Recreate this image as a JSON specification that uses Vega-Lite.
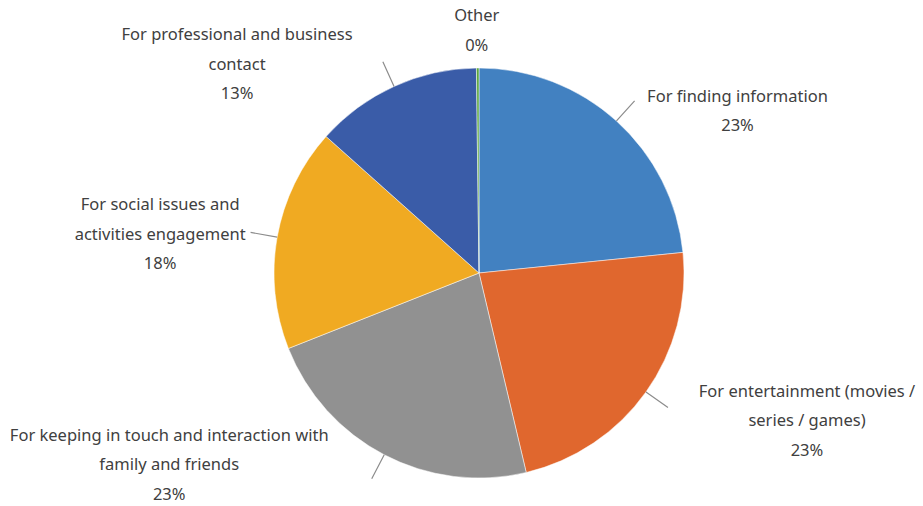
{
  "$schema": "https://vega.github.io/schema/vega-lite/v6.json",
  "autosize": {"type": "none"},
  "padding": {"left": 35, "top": 40, "right": 0, "bottom": 0},
  "width": 888,
  "height": 466,
  "background": "white",
  "config": {"view": {"stroke": null}},
  "data": {
    "values": [
      {"order": 1, "category": "For finding information", "share": 23.4, "label": "For finding information\n23%"},
      {"order": 2, "category": "For entertainment (movies / series / games)", "share": 22.9, "label": "For entertainment (movies /\nseries / games)\n23%"},
      {"order": 3, "category": "For keeping in touch and interaction with family and friends", "share": 22.7, "label": "For keeping in touch and interaction with\nfamily and friends\n23%"},
      {"order": 4, "category": "For social issues and activities engagement", "share": 17.6, "label": "For social issues and\nactivities engagement\n18%"},
      {"order": 5, "category": "For professional and business contact", "share": 13.2, "label": "For professional and business\ncontact\n13%"},
      {"order": 6, "category": "Other", "share": 0.2, "label": "Other\n0%"}
    ]
  },
  "transform": [
    {"window": [{"op": "sum", "field": "share", "as": "cum"}], "sort": [{"field": "order"}], "frame": [null, 0]},
    {"calculate": "datum.cum - datum.share / 2", "as": "mid"}
  ],
  "layer": [
    {
      "mark": {"type": "arc", "radius": 205, "stroke": "white", "strokeWidth": 0.5},
      "encoding": {
        "theta": {"field": "share", "type": "quantitative", "stack": true, "scale": {"domain": [0, 100]}},
        "order": {"field": "order", "type": "quantitative"},
        "color": {
          "field": "category", "type": "nominal", "legend": null,
          "scale": {
            "domain": ["For finding information", "For entertainment (movies / series / games)", "For keeping in touch and interaction with family and friends", "For social issues and activities engagement", "For professional and business contact", "Other"],
            "range": ["#4281C1", "#E0672E", "#919191", "#F0AA22", "#3A5CA8", "#5BA63F"]
          }
        }
      }
    },
    {
      "transform": [{"filter": "datum.category !== 'Other'"}],
      "mark": {"type": "arc", "radius": 232, "radius2": 205, "stroke": "#8c8c8c", "strokeWidth": 1.2, "fillOpacity": 0},
      "encoding": {
        "theta": {"field": "mid", "type": "quantitative", "stack": null},
        "theta2": {"field": "mid"}
      }
    },
    {
      "transform": [{"filter": "datum.order === 1"}],
      "mark": {"type": "text", "radius": 205, "dx": 121, "dy": -24, "lineBreak": "\n", "lineHeight": 29.5, "align": "center", "baseline": "middle", "fontSize": 16.5, "font": "Noto Sans", "color": "#404040"},
      "encoding": {"theta": {"field": "mid", "type": "quantitative", "stack": null}, "text": {"field": "label"}}
    },
    {
      "transform": [{"filter": "datum.order === 2"}],
      "mark": {"type": "text", "radius": 205, "dx": 161, "dy": 0, "lineBreak": "\n", "lineHeight": 29.5, "align": "center", "baseline": "middle", "fontSize": 16.5, "font": "Noto Sans", "color": "#404040"},
      "encoding": {"theta": {"field": "mid", "type": "quantitative", "stack": null}, "text": {"field": "label"}}
    },
    {
      "transform": [{"filter": "datum.order === 3"}],
      "mark": {"type": "text", "radius": 205, "dx": -215, "dy": -19, "lineBreak": "\n", "lineHeight": 29.5, "align": "center", "baseline": "middle", "fontSize": 16.5, "font": "Noto Sans", "color": "#404040"},
      "encoding": {"theta": {"field": "mid", "type": "quantitative", "stack": null}, "text": {"field": "label"}}
    },
    {
      "transform": [{"filter": "datum.order === 4"}],
      "mark": {"type": "text", "radius": 205, "dx": -117, "dy": -32, "lineBreak": "\n", "lineHeight": 29.5, "align": "center", "baseline": "middle", "fontSize": 16.5, "font": "Noto Sans", "color": "#404040"},
      "encoding": {"theta": {"field": "mid", "type": "quantitative", "stack": null}, "text": {"field": "label"}}
    },
    {
      "transform": [{"filter": "datum.order === 5"}],
      "mark": {"type": "text", "radius": 205, "dx": -157, "dy": -51, "lineBreak": "\n", "lineHeight": 29.5, "align": "center", "baseline": "middle", "fontSize": 16.5, "font": "Noto Sans", "color": "#404040"},
      "encoding": {"theta": {"field": "mid", "type": "quantitative", "stack": null}, "text": {"field": "label"}}
    },
    {
      "transform": [{"filter": "datum.order === 6"}],
      "mark": {"type": "text", "radius": 205, "dx": -1, "dy": -52, "lineBreak": "\n", "lineHeight": 29.5, "align": "center", "baseline": "middle", "fontSize": 16.5, "font": "Noto Sans", "color": "#404040"},
      "encoding": {"theta": {"field": "mid", "type": "quantitative", "stack": null}, "text": {"field": "label"}}
    }
  ]
}
